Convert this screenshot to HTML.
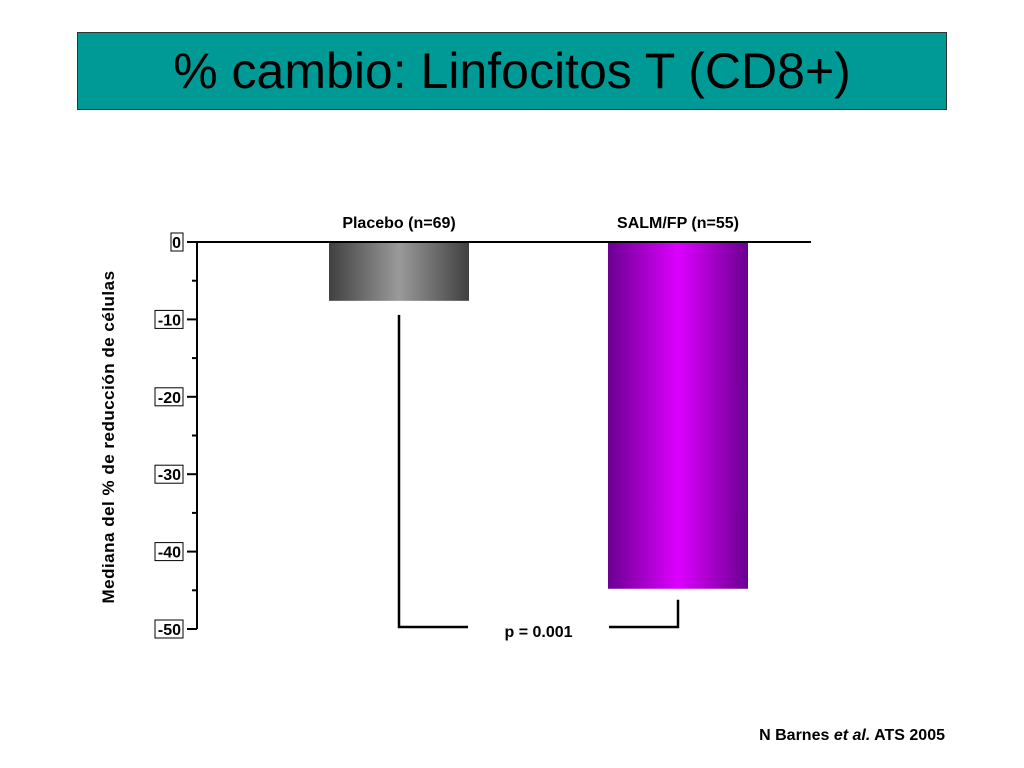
<!DOCTYPE html>
<html><head><meta charset="utf-8"><style>
body{margin:0;background:#fff;width:1024px;height:768px;overflow:hidden;font-family:"Liberation Sans",Arial,sans-serif}
#title{position:absolute;left:77px;top:32px;width:868px;height:76px;background:#009a96;border:1px solid #333;display:flex;align-items:center;justify-content:center;font-size:50px;color:#000}
</style></head><body>
<div id="title">% cambio: Linfocitos T (CD8+)</div>
<svg width="1024" height="768" style="position:absolute;left:0;top:0">
<defs>
<linearGradient id="gGray" x1="0" x2="1"><stop offset="0" stop-color="#404040"/><stop offset="0.5" stop-color="#9a9a9a"/><stop offset="1" stop-color="#404040"/></linearGradient>
<linearGradient id="gPurp" x1="0" x2="1"><stop offset="0" stop-color="#6a0090"/><stop offset="0.5" stop-color="#dd00ff"/><stop offset="1" stop-color="#6a0090"/></linearGradient>
</defs>
<g id="g"></g>
<text transform="translate(114,437) rotate(-90)" text-anchor="middle" font-size="17" font-weight="bold" letter-spacing="0.5">Mediana del % de reducción de células</text>
<text x="945" y="740" text-anchor="end" font-size="16" font-weight="bold">N Barnes <tspan font-style="italic">et al.</tspan> ATS 2005</text>
</svg>
<script>
const categories=["Placebo (n=69)","SALM/FP (n=55)"];
const values=[-7.6,-44.8];
const tickValues=[0,-10,-20,-30,-40,-50];
const pLabel="p = 0.001";
const y0=242,y1=629;
const y=v=>y0+(v/-50)*(y1-y0);
const barX=[329,608],barW=140,fills=["url(#gGray)","url(#gPurp)"];
const g=document.getElementById('g');const NS="http://www.w3.org/2000/svg";
function mk(t,a,txt){const e=document.createElementNS(NS,t);for(const k in a)e.setAttribute(k,a[k]);if(txt!=null)e.textContent=txt;g.appendChild(e);return e;}
values.forEach((v,i)=>{
 const r=mk('rect',{x:barX[i],y:y(0),width:barW,height:y(v)-y(0),fill:fills[i]});
 
 
 const t=mk('text',{x:barX[i]+barW/2,y:228,'text-anchor':'middle','font-size':16,'font-weight':'bold'},categories[i]);
 
 
});
const ax=mk('line',{x1:197,y1:y0,x2:197,y2:y1,stroke:'#000','stroke-width':2});


const zl=mk('line',{x1:197,y1:y0,x2:811,y2:y0,stroke:'#000','stroke-width':2});


for(let v=0;v>=-50;v-=5){mk('line',{x1:v%10===0?187:192,y1:y(v),x2:197,y2:y(v),stroke:'#000','stroke-width':2});}
tickValues.forEach(v=>{
 const w=v===0?12:28;
 mk('rect',{x:183-w,y:y(v)-9,width:w,height:18,fill:'none',stroke:'#000','stroke-width':1});
 const t=mk('text',{x:181,y:y(v)+6,'text-anchor':'end','font-size':16,'font-weight':'bold'},String(v));
 
 
});
const yb=y(-50)-2;
const c1=barX[0]+barW/2,c2=barX[1]+barW/2;
mk('polyline',{points:`${c1},${y(values[0])+14} ${c1},${yb} ${barX[0]+barW-1},${yb}`,fill:'none',stroke:'#000','stroke-width':2.5});
mk('polyline',{points:`${barX[1]+1},${yb} ${c2},${yb} ${c2},${y(values[1])+11}`,fill:'none',stroke:'#000','stroke-width':2.5});
const pt=mk('text',{x:(c1+c2)/2,y:yb+10,'text-anchor':'middle','font-size':16,'font-weight':'bold'},pLabel);


</script>
</body></html>
